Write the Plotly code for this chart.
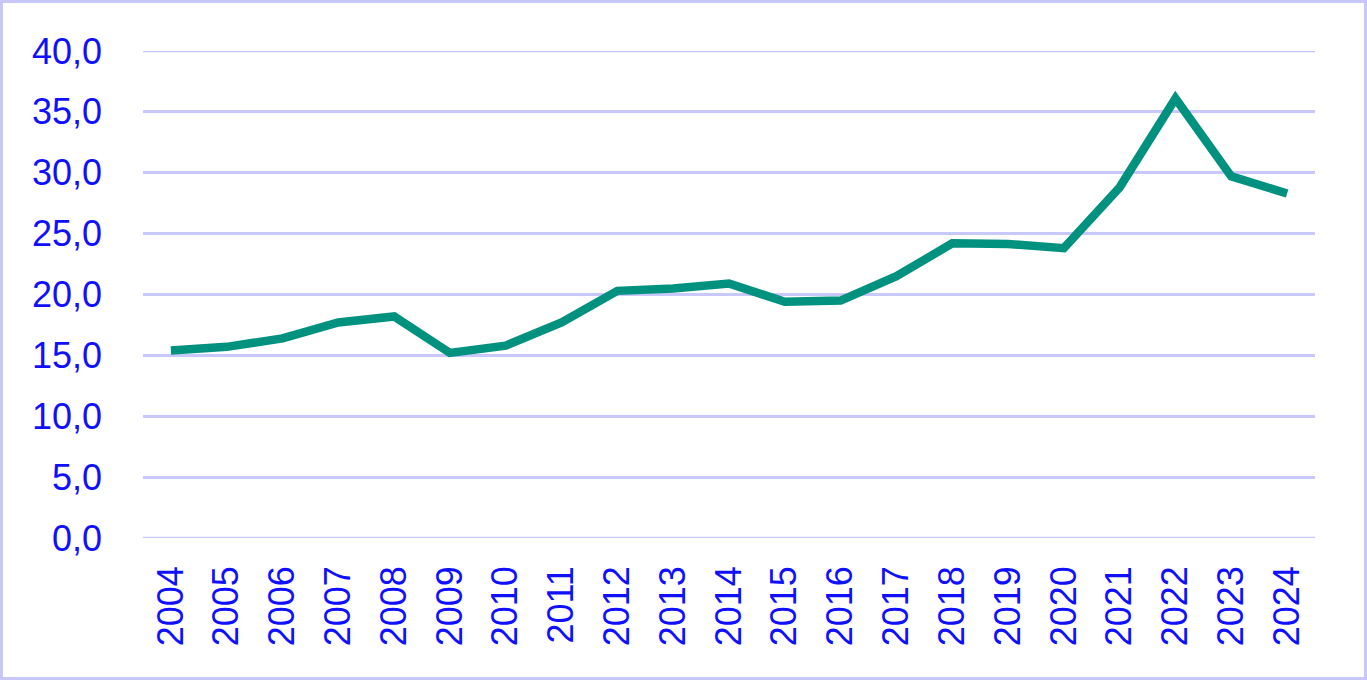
import plotly.graph_objects as go

years = [str(y) for y in range(2004, 2025)]
values = [15.4, 15.7, 16.4, 17.7, 18.2, 15.2, 15.8, 17.7, 20.3, 20.5, 20.9,
          19.4, 19.5, 21.5, 24.2, 24.15, 23.8, 28.8, 36.1, 29.7, 28.3]
y_ticks = [0, 5, 10, 15, 20, 25, 30, 35, 40]

W, H = 1367, 680
ml, mr, mt, mb = 143, 52, 51, 142
pw, ph = W - ml - mr, H - mt - mb
grid_color = "#c8c8fa"

fig = go.Figure()
fig.add_trace(go.Scatter(x=years, y=values, mode="lines",
                         line=dict(color="#00917F", width=8.5),
                         showlegend=False))

font = dict(family="Liberation Sans, Arial, sans-serif", size=36, color="#1010ff")

shapes = [dict(type="rect", xref="paper", yref="paper",
               x0=(1.5 - ml) / pw, x1=(W - 1.5 - ml) / pw,
               y0=(mt + ph - (H - 1.5)) / ph, y1=(mt + ph - 1.5) / ph,
               line=dict(color="#c8c8f8", width=3), layer="below")]
for v in (y_ticks[0], y_ticks[-1]):
    shapes.append(dict(type="line", xref="paper", yref="y", x0=0, x1=1,
                       y0=v, y1=v, line=dict(color=grid_color, width=2.5),
                       layer="below"))

fig.update_layout(
    width=W, height=H,
    margin=dict(l=ml, r=mr, t=mt, b=mb),
    paper_bgcolor="white", plot_bgcolor="white",
    separators=",.",
    xaxis=dict(type="category", tickangle=-90, tickfont=font,
               range=[-0.5, len(years) - 0.5],
               showgrid=False, zeroline=False, showline=False,
               ticks="", ticklabelstandoff=20),
    yaxis=dict(range=[0, 40], tickvals=y_ticks, tickformat=".1f",
               tickfont=font, showgrid=True, gridcolor=grid_color,
               gridwidth=2.5, zeroline=False, showline=False,
               ticks="", ticklabelstandoff=40),
    shapes=shapes,
)

fig.write_html("out.html", config={"displayModeBar": False},
               post_script="document.body.style.margin='0';document.body.style.overflow='hidden';")
